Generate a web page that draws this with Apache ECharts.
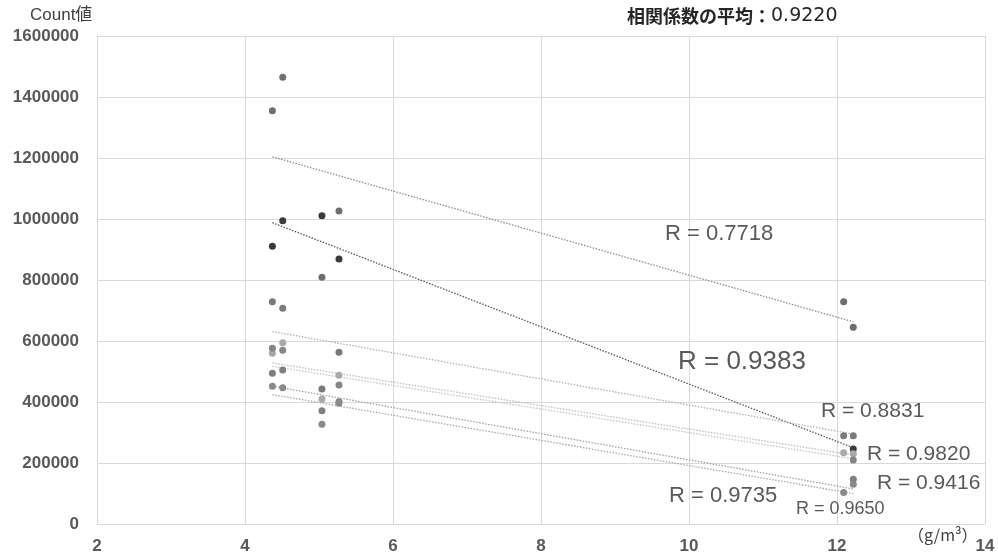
<!DOCTYPE html>
<html>
<head>
<meta charset="utf-8">
<script src="https://cdn.jsdelivr.net/npm/echarts@6/dist/echarts.min.js"></script>
<style>
html,body{margin:0;padding:0;background:#fff;}
#chart{width:998px;height:558px;}
</style>
</head>
<body>
<div id="chart"></div>
<script>
// ---- data ----
const xTicks = [2, 4, 6, 8, 10, 12, 14];
const yTicks = [0, 200000, 400000, 600000, 800000, 1000000, 1200000, 1400000, 1600000];
const xPositions = [4.37, 4.51, 5.04, 5.27, 12.09, 12.22];

// series values at each x position (null = no point)
const seriesA = [1355000, 1465000, 809000, 1026000, 729000, 645000];
const seriesB = [911000, 994000, 1011000, 869000, null, 246000];
const seriesC = [729000, 707000, 443000, 563000, 289000, 289000];
const seriesD = [560000, 594000, 410000, 488000, 234000, 230000];
const seriesE = [576000, 570000, null, 456000, null, 210000];
const seriesF = [494000, 505000, 371000, 401000, null, 147000];
const seriesG = [452000, 447000, 327000, 396000, 103000, 130000];

// linear trend lines: value at start x and end x
const trendX = [4.37, 12.22];
const trendA = [1204000, 663000];
const trendB = [988000, 250000];
const trendC = [631000, 295000];
const trendD = [528000, 226000];
const trendE = [517000, 214000];
const trendF = [452000, 115000];
const trendG = [424000, 100000];

const rLabels = ['R = 0.7718', 'R = 0.9383', 'R = 0.8831', 'R = 0.9820', 'R = 0.9416', 'R = 0.9735', 'R = 0.9650'];
const titleLabel = '相関係数の平均：';
const titleValue = '0.9220';
const yName = 'Count値';
const xUnit = '（g/m³）';

// ---- styling ----
const pointColors = ['#6e6e6e', '#3a3a3a', '#7a7a7a', '#a9a9a9', '#858585', '#808080', '#8a8a8a'];
const lineColors  = ['#8c8c8c', '#555555', '#b0b0b0', '#bdbdbd', '#c4c4c4', '#a0a0a0', '#a8a8a8'];
const labelPos = [
  {x: 665, y: 236, s: 22},
  {x: 678, y: 364, s: 26},
  {x: 821, y: 413, s: 21},
  {x: 867, y: 456, s: 21},
  {x: 877, y: 485, s: 21},
  {x: 669, y: 498, s: 22},
  {x: 796, y: 511, s: 18}
];

const allSeries = [seriesA, seriesB, seriesC, seriesD, seriesE, seriesF, seriesG];
const allTrends = [trendA, trendB, trendC, trendD, trendE, trendF, trendG];

const series = [];
allTrends.forEach((t, i) => {
  series.push({
    type: 'line',
    data: [[trendX[0], t[0]], [trendX[1], t[1]]],
    symbol: 'none',
    silent: true,
    z: 2,
    lineStyle: {color: lineColors[i], width: 1.3, type: [1.5, 1.5]}
  });
});
allSeries.forEach((s, i) => {
  const pts = [];
  s.forEach((v, j) => { if (v !== null) pts.push([xPositions[j], v]); });
  series.push({
    type: 'scatter',
    data: pts,
    symbol: 'circle',
    symbolSize: 7,
    z: 3,
    itemStyle: {color: pointColors[i], opacity: 1}
  });
});

const graphics = rLabels.map((t, i) => ({
  type: 'text',
  left: labelPos[i].x,
  top: labelPos[i].y - labelPos[i].s * 0.6,
  z: 10,
  style: {text: t, fill: '#595959', fontSize: labelPos[i].s, fontFamily: 'Liberation Sans, Arial, sans-serif'}
}));
graphics.push({
  type: 'text', left: 627, top: 7, z: 10,
  style: {
    text: '{a|' + titleLabel + '}{b|' + titleValue + '}',
    rich: {
      a: {fontSize: 18, fontWeight: 'bold', fontFamily: 'Noto Sans CJK JP', fill: '#262626'},
      b: {fontSize: 19, fontFamily: 'DejaVu Sans', fill: '#262626'}
    }
  }
});
graphics.push({
  type: 'text', left: 30, top: 7, z: 10,
  style: {text: yName, fontSize: 17, fontFamily: 'Liberation Sans, Noto Sans CJK JP', fill: '#404040'}
});
graphics.push({
  type: 'text', left: 908, top: 527, z: 10,
  style: {text: xUnit, fontSize: 16, fontFamily: 'Noto Sans CJK JP', fill: '#404040'}
});

const chart = echarts.init(document.getElementById('chart'), null, {renderer: 'canvas'});
chart.setOption({
  animation: false,
  backgroundColor: '#ffffff',
  grid: {left: 97, right: 13, top: 36, bottom: 34},
  xAxis: {
    type: 'value',
    min: xTicks[0], max: xTicks[xTicks.length - 1], interval: xTicks[1] - xTicks[0],
    axisLine: {show: true, lineStyle: {color: '#d9d9d9'}},
    axisTick: {show: false},
    splitLine: {show: true, lineStyle: {color: '#d9d9d9', width: 1}},
    axisLabel: {color: '#595959', fontSize: 17, fontWeight: 'bold', fontFamily: 'Liberation Sans, Arial', margin: 14}
  },
  yAxis: {
    type: 'value',
    min: yTicks[0], max: yTicks[yTicks.length - 1], interval: yTicks[1] - yTicks[0],
    axisLine: {show: true, lineStyle: {color: '#d9d9d9'}},
    axisTick: {show: false},
    splitLine: {show: true, lineStyle: {color: '#d9d9d9', width: 1}},
    axisLabel: {color: '#595959', fontSize: 17, fontWeight: 'bold', fontFamily: 'Liberation Sans, Arial', margin: 18,
      formatter: v => String(v)}
  },
  series: series,
  graphic: graphics
});
</script>
</body>
</html>
